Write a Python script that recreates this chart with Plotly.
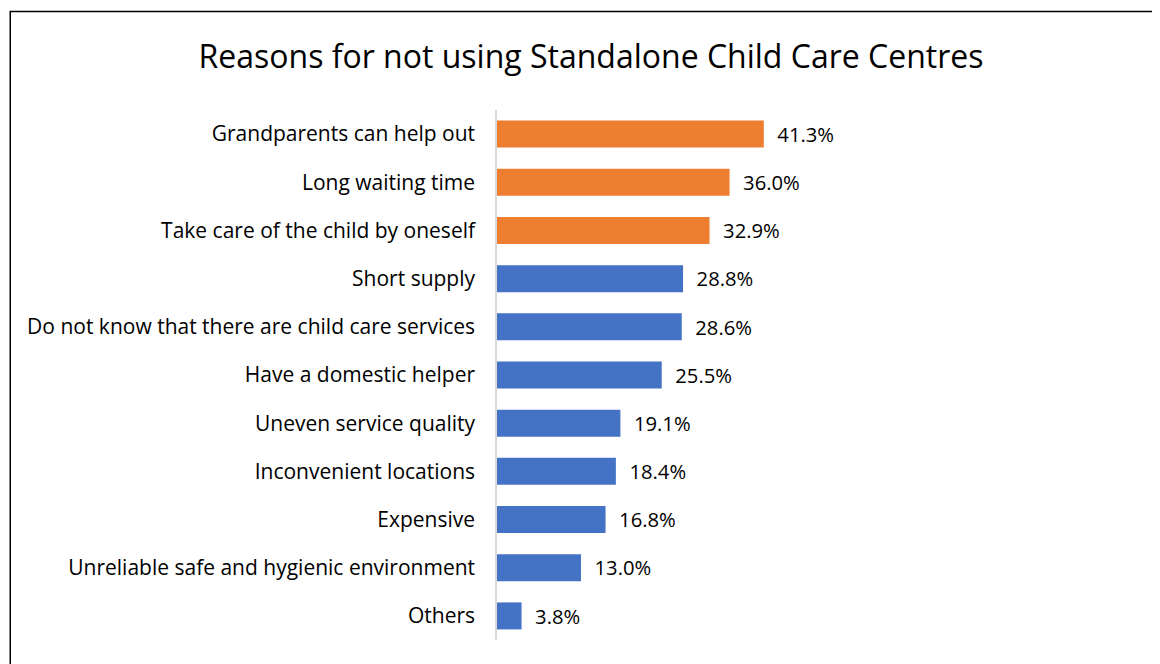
import plotly.graph_objects as go

categories = [
    "Grandparents can help out",
    "Long waiting time",
    "Take care of the child by oneself",
    "Short supply",
    "Do not know that there are child care services",
    "Have a domestic helper",
    "Uneven service quality",
    "Inconvenient locations",
    "Expensive",
    "Unreliable safe and hygienic environment",
    "Others",
]
values = [41.3, 36.0, 32.9, 28.8, 28.6, 25.5, 19.1, 18.4, 16.8, 13.0, 3.8]
highlight_top = 3

ORANGE = "#ED7D31"
BLUE = "#4472C4"
FONT = "Open Sans"

colors = [ORANGE if i < highlight_top else BLUE for i in range(len(values))]
labels = [f"{v:.1f}%" for v in values]

# the page adds an 8px body margin, so the figure is drawn 8px smaller
W, H = 1152, 656
ml, mt, mb = 489, 102, 24
xmax = 50
px_per_unit = 6.47
mr = W - ml - xmax * px_per_unit
pw = W - ml - mr
ph = H - mt - mb

fig = go.Figure()
fig.add_trace(go.Bar(
    y=categories, x=values, orientation="h",
    marker=dict(color=colors, line=dict(width=0)),
    text=labels, textposition="outside", cliponaxis=False,
    texttemplate="  %{text}",
    textfont=dict(family=FONT, size=21, color="#000000"),
    hoverinfo="skip",
))

# outer frame (left and top edges)
fx0 = (1.5 - ml) / pw
fx1 = (W + 20 - ml) / pw
fy1 = 1 + (mt - 3.5) / ph
fy0 = -(mb + 20) / ph
fig.add_shape(type="path", xref="paper", yref="paper",
              path=f"M {fx0} {fy0} L {fx0} {fy1} L {fx1} {fy1}",
              line=dict(color="#000000", width=1.5))

fig.update_layout(
    width=W, height=H,
    margin=dict(l=ml, r=mr, t=mt, b=mb),
    paper_bgcolor="white", plot_bgcolor="white",
    bargap=0.44,
    showlegend=False,
    title=dict(text="Reasons for not using Standalone Child Care Centres",
               x=583 / W, xref="container", xanchor="center",
               y=1 - 49 / H, yanchor="middle",
               font=dict(family=FONT, size=32, color="#000000")),
    font=dict(family=FONT, color="#000000"),
)
fig.update_xaxes(range=[0, xmax], visible=False)
fig.update_yaxes(autorange="reversed", showline=True, linecolor="#D9D9D9",
                 linewidth=1.5, ticks="", ticklabelstandoff=16,
                 tickfont=dict(family=FONT, size=21, color="#000000"),
                 showgrid=False)

fig.write_html("out.html")
